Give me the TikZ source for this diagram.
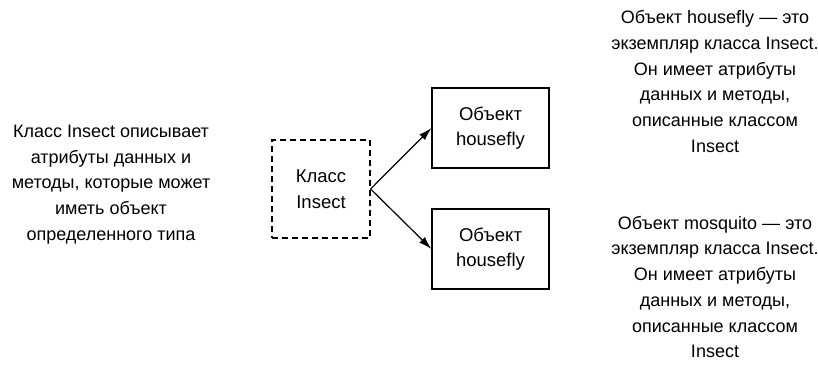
\documentclass[tikz,border=0pt]{standalone}
\usepackage{fontspec}
\setmainfont{Liberation Sans}
\usetikzlibrary{arrows.meta}
\begin{document}
\begin{tikzpicture}[x=1pt,y=-1pt,
  txt/.style={align=center,font=\fontsize{18}{25.7}\selectfont,inner sep=0pt},
  obj/.style={draw,line width=1.2pt,minimum width=117pt,minimum height=80pt,align=center,font=\fontsize{18.5}{25.7}\selectfont,inner sep=0pt},
  cls/.style={draw,dashed,dash pattern=on 6pt off 4pt,line width=1.2pt,minimum width=98pt,minimum height=98pt,align=center,font=\fontsize{18.5}{25.7}\selectfont,inner sep=0pt},
  arr/.style={-{Latex[length=13pt,width=8pt]},line width=1.2pt}]
\useasboundingbox (0,0) rectangle (818,365);
\node[txt] (desc) at (111,184.5) {Класс Insect описывает\\атрибуты данных и\\методы, которые может\\иметь объект\\определенного типа};
\node[cls] (cls) at (321,189) {Класс\\Insect};
\node[obj] (o1) at (490.5,128) {Объект\\housefly};
\node[obj] (o2) at (490.5,249) {Объект\\housefly};
\draw[arr] (cls.east) -- (o1.west);
\draw[arr] (cls.east) -- (o2.west);
\node[txt] (t1) at (715,81.5) {Объект housefly — это\\экземпляр класса Insect.\\Он имеет атрибуты\\данных и методы,\\описанные классом\\Insect};
\node[txt] (t2) at (715,287) {Объект mosquito — это\\экземпляр класса Insect.\\Он имеет атрибуты\\данных и методы,\\описанные классом\\Insect};
\end{tikzpicture}
\end{document}
